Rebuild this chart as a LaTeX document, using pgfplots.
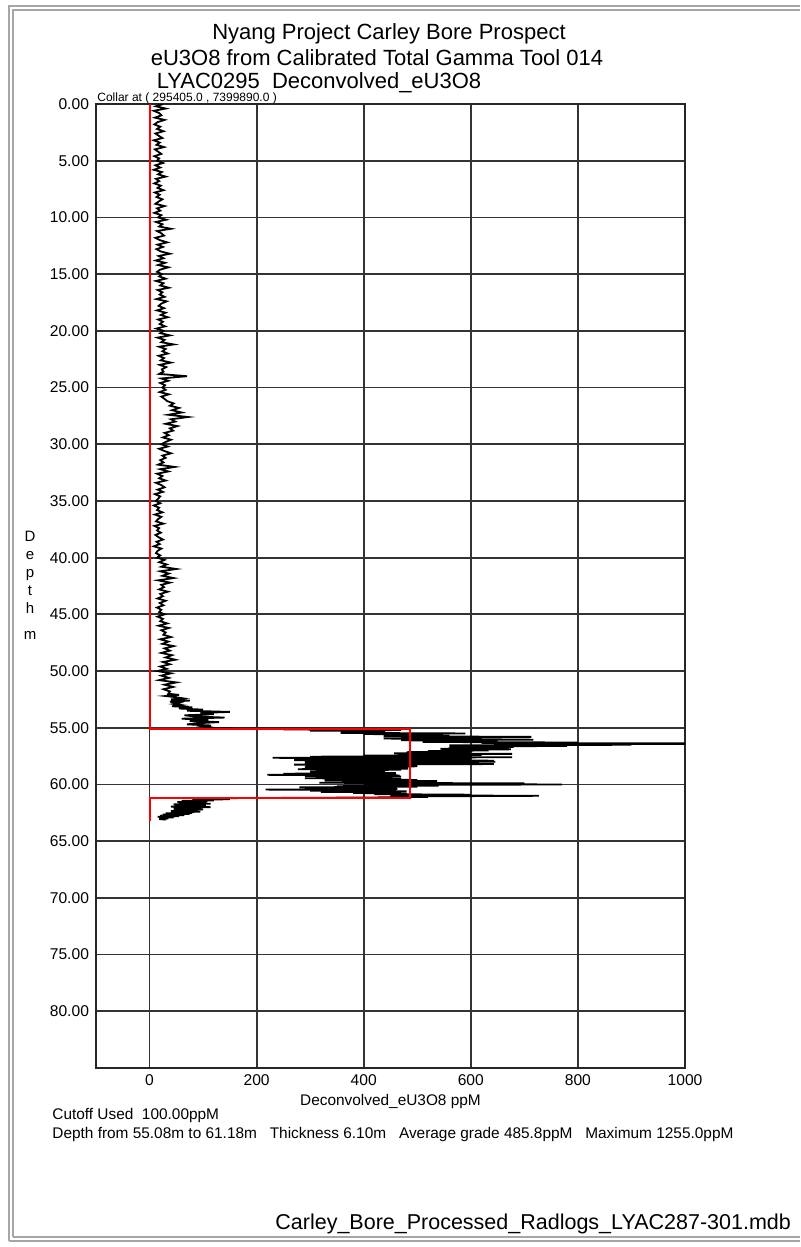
\documentclass[border=0pt]{standalone}
\usepackage{fontspec}
\setmainfont{Liberation Sans}
\usepackage{pgfplots}
\pgfplotsset{compat=1.18}
\begin{document}
\begin{tikzpicture}
\path[use as bounding box] (0,0) rectangle (400pt,623.5pt);
\draw[gray!70,line width=1pt] (4.5pt,3pt) -- (4.5pt,620.5pt) -- (400pt,620.5pt);
\draw[gray!70,line width=1pt] (6.5pt,5pt) -- (6.5pt,618.5pt) -- (400pt,618.5pt);
\draw[gray!70,line width=1pt] (4.5pt,3pt) -- (400pt,3pt);
\draw[gray!70,line width=1pt] (6.5pt,5pt) -- (400pt,5pt);
\node[font=\fontsize{11}{13}\selectfont] at (194.5pt,606.5pt) {Nyang Project Carley Bore Prospect};
\node[font=\fontsize{11}{13}\selectfont] at (188.5pt,594.5pt) {eU3O8 from Calibrated Total Gamma Tool 014};
\node[font=\fontsize{11}{13}\selectfont] at (159.5pt,582pt) {LYAC0295\ \ Deconvolved\_eU3O8};
\node[font=\fontsize{6}{7}\selectfont,anchor=west,inner sep=0pt] at (48.5pt,574.5pt) {Collar at ( 295405.0 , 7399890.0 )};
\node[font=\fontsize{7.5}{9}\selectfont,align=center,inner sep=0pt] at (15pt,331pt) {D\\e\\p\\t\\h\\[4pt]m};
\node[font=\fontsize{7.7}{9}\selectfont,anchor=west,inner sep=0pt] at (26pt,65.5pt) {Cutoff Used\ \ 100.00ppM};
\node[font=\fontsize{7.7}{9}\selectfont,anchor=west,inner sep=0pt] at (26pt,56pt) {Depth from 55.08m to 61.18m\ \ \ Thickness 6.10m\ \ \ Average grade 485.8ppM\ \ \ Maximum 1255.0ppM};
\node[font=\fontsize{10.75}{12}\selectfont,anchor=west,inner sep=0pt] at (137.5pt,11.5pt) {Carley\_Bore\_Processed\_Radlogs\_LYAC287-301.mdb};
\begin{axis}[at={(48pt,89.5pt)}, anchor=south west, scale only axis,
  width=294.5pt, height=482pt,
  xmin=-100, xmax=1000, ymin=0, ymax=85, y dir=reverse,
  xtick={0,200,...,1000}, ytick={0,5,...,80},
  grid=major, major grid style={black!80,line width=0.9pt},
  axis line style={black!85,line width=0.9pt},
  major tick length=0pt,
  tick label style={font=\fontsize{7.8}{9}\selectfont},
  /pgf/number format/assume math mode=true,
  yticklabel style={/pgf/number format/.cd,fixed,fixed zerofill,precision=2},
  xticklabel style={/pgf/number format/.cd,fixed,precision=0,1000 sep={}},
  xlabel={Deconvolved\_eU3O8 ppM},
  xlabel style={font=\fontsize{7.7}{9}\selectfont, yshift=3pt},
  clip=true]
\addplot[black, line width=0.9pt] coordinates {
(25,0)(12,0.2)(30,0.4)(8,0.6)(18,0.8)(22,1)(10,1.2)(28,1.4)(15,1.6)(9,1.8)(20,2)(14,2.2)(26,2.4)(11,2.6)(17,2.8)(24,3)(8,3.2)(19,3.4)(13,3.6)(27,3.8)(10,4)(16,4.2)(22,4.4)(9,4.6)(18,4.8)
(14,5)(25,5.2)(11,5.4)(20,5.6)(8,5.8)(23,6)(16,6.2)(30,6.4)(12,6.6)(18,6.8)(9,7)(21,7.2)(15,7.4)(26,7.6)(10,7.8)(19,8)(13,8.2)(24,8.4)(17,8.6)(11,8.8)(28,9)(14,9.2)(20,9.4)(9,9.6)(22,9.8)
(16,10)(31,10.2)(12,10.4)(24,10.6)(18,10.8)(40,11)(14,11.2)(22,11.4)(27,11.6)(11,11.8)(19,12)(33,12.2)(15,12.4)(25,12.6)(13,12.8)(21,13)(38,13.2)(17,13.4)(26,13.6)(12,13.8)(29,14)(16,14.2)(35,14.4)(20,14.6)(14,14.8)
(23,15)(18,15.2)(30,15.4)(12,15.6)(26,15.8)(20,16)(36,16.2)(15,16.4)(24,16.6)(19,16.8)(28,17)(13,17.2)(32,17.4)(22,17.6)(17,17.8)(27,18)(14,18.2)(30,18.4)(21,18.6)(34,18.8)(16,19)(25,19.2)(19,19.4)(29,19.6)(13,19.8)
(26,20)(20,20.2)(38,20.4)(15,20.6)(28,20.8)(22,21)(45,21.2)(18,21.4)(30,21.6)(24,21.8)(34,22)(17,22.2)(27,22.4)(21,22.6)(40,22.8)(19,23)(31,23.2)(23,23.4)(26,23.6)(18,23.8)(70,24)(22,24.2)(35,24.4)(20,24.6)(29,24.8)
(24,25)(30,25.2)(19,25.4)(36,25.6)(22,25.8)(28,26)(33,26.2)(45,26.4)(38,26.6)(55,26.8)(42,27)(60,27.2)(35,27.4)(72,27.6)(40,27.8)(48,28)(30,28.2)(52,28.4)(38,28.6)(44,28.8)(28,29)(36,29.2)(25,29.4)(40,29.6)(30,29.8)
(22,30)(34,30.2)(18,30.4)(28,30.6)(40,30.8)(24,31)(30,31.2)(20,31.4)(26,31.6)(16,31.8)(47,32)(20,32.2)(35,32.4)(14,32.6)(24,32.8)(18,33)(30,33.2)(12,33.4)(22,33.6)(28,33.8)(15,34)(25,34.2)(10,34.4)(20,34.6)(16,34.8)
(12,35)(20,35.2)(8,35.4)(18,35.6)(14,35.8)(24,36)(10,36.2)(22,36.4)(16,36.6)(12,36.8)(26,37)(9,37.2)(18,37.4)(14,37.6)(21,37.8)(11,38)(17,38.2)(25,38.4)(13,38.6)(19,38.8)(8,39)(22,39.2)(15,39.4)(12,39.6)(20,39.8)
(14,40)(28,40.2)(18,40.4)(32,40.6)(22,40.8)(50,41)(20,41.2)(36,41.4)(24,41.6)(45,41.8)(16,42)(38,42.2)(22,42.4)(27,42.6)(18,42.8)(34,43)(20,43.2)(25,43.4)(15,43.6)(30,43.8)(19,44)(26,44.2)(14,44.4)(22,44.6)(18,44.8)
(28,45)(15,45.2)(25,45.4)(20,45.6)(33,45.8)(17,46)(36,46.2)(22,46.4)(30,46.6)(26,46.8)(40,47)(20,47.2)(35,47.4)(24,47.6)(45,47.8)(28,48)(38,48.2)(22,48.4)(42,48.6)(30,48.8)(48,49)(25,49.2)(38,49.4)(20,49.6)(32,49.8)
(15,50)(40,50.2)(22,50.4)(36,50.6)(18,50.8)(50,51)(28,51.2)(44,51.4)(26,51.6)(38,51.8)
(35,52)(55,52.1)(30,52.2)(48,52.3)(62,52.4)(40,52.5)(75,52.6)(38,52.7)(55,52.8)(45,52.9)
(60,53)(42,53.1)(80,53.2)(55,53.3)(100,53.4)(70,53.5)(150,53.6)(95,53.7)(120,53.8)(65,53.9)
(85,54)(140,54.1)(60,54.2)(110,54.3)(75,54.4)(130,54.5)(90,54.6)(70,54.7)(115,54.8)(100,54.9)
(120,55)(120,55.05)(483,55.1)(250,55.15)(470,55.2)(300,55.25)(440,55.3)(380,55.35)(420,55.4)(357,55.45)(590,55.5)(400,55.55)(520,55.6)(460,55.65)(560,55.7)(437,55.75)(713,55.8)(500,55.85)(620,55.9)(437,55.95)
(600,56)(717,56.05)(470,56.1)(560,56.15)(650,56.2)(510,56.25)(800,56.3)(620,56.35)(1255,56.38)(1255,56.42)(700,56.45)(900,56.5)(560,56.55)(780,56.6)(600,56.65)(680,56.7)(560,56.75)(620,56.8)(543,56.85)(675,56.9)(580,56.95)
(633,57)(520,57.05)(600,57.1)(480,57.15)(560,57.2)(457,57.25)(677,57.3)(500,57.35)(620,57.4)(400,57.45)(560,57.5)(300,57.55)(677,57.6)(230,57.65)(600,57.7)(320,57.75)(560,57.8)(270,57.85)(643,57.9)(300,57.95)
(646,58)(290,58.05)(550,58.1)(340,58.15)(643,58.2)(270,58.25)(480,58.3)(310,58.35)(500,58.4)(290,58.45)(460,58.5)(330,58.55)(483,58.6)(277,58.65)(470,58.7)(350,58.75)(440,58.8)(300,58.85)(400,58.9)(330,58.95)
(460,59)(250,59.05)(440,59.1)(220,59.15)(467,59.2)(290,59.25)(470,59.3)(310,59.35)(450,59.4)(290,59.45)(470,59.5)(360,59.55)(500,59.6)(327,59.65)(537,59.7)(380,59.75)(520,59.8)(317,59.85)(700,59.9)(450,59.95)
(770,60)(400,60.05)(540,60.1)(350,60.15)(500,60.2)(280,60.25)(460,60.3)(320,60.35)(463,60.4)(217,60.45)(460,60.5)(300,60.55)(480,60.6)(320,60.65)(470,60.7)(380,60.75)(480,60.8)(420,60.85)(600,60.9)(450,60.95)
(727,61)(480,61.05)(520,61.1)(400,61.15)(166,61.2)(80,61.25)(150,61.3)(90,61.35)(120,61.4)(60,61.45)(108,61.5)(52,61.55)(100,61.6)(70,61.65)(114,61.7)(45,61.75)(105,61.8)(60,61.85)(95,61.9)(40,61.95)
(114,62)(55,62.05)(90,62.1)(45,62.15)(100,62.2)(50,62.25)(85,62.3)(40,62.35)(95,62.4)(50,62.45)(80,62.5)(30,62.55)(75,62.6)(25,62.65)(65,62.7)(20,62.75)(55,62.8)(15,62.85)(45,62.9)(20,62.95)
(35,63)(18,63.05)(30,63.1)
};
\addplot[draw=red, line width=1pt] coordinates {(0,0)(0,55.08)(485.8,55.08)(485.8,61.18)(0,61.18)(0,63.2)};
\end{axis}
\end{tikzpicture}
\end{document}
